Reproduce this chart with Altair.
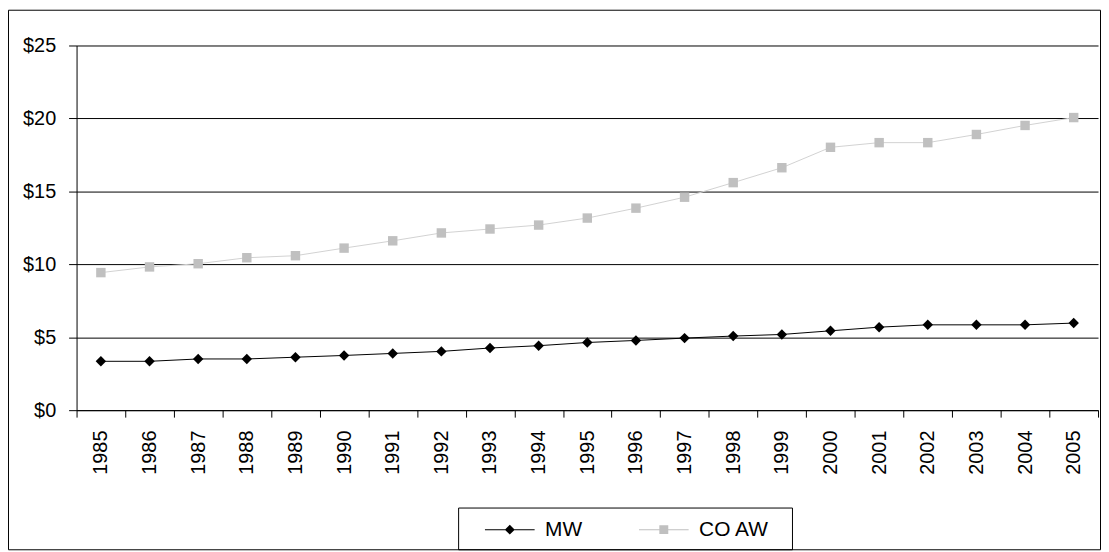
import altair as alt
import pandas as pd

# ---- data ----
years = ["1985", "1986", "1987", "1988", "1989", "1990", "1991", "1992", "1993", "1994",
         "1995", "1996", "1997", "1998", "1999", "2000", "2001", "2002", "2003", "2004", "2005"]
mw = [3.35, 3.35, 3.51, 3.51, 3.63, 3.75, 3.89, 4.03, 4.26, 4.42,
      4.64, 4.78, 4.94, 5.08, 5.19, 5.44, 5.69, 5.85, 5.85, 5.85, 5.97]
co_aw = [9.43, 9.82, 10.04, 10.45, 10.59, 11.11, 11.61, 12.15, 12.42, 12.69,
         13.17, 13.85, 14.60, 15.60, 16.62, 18.02, 18.34, 18.34, 18.90, 19.52, 20.06]
series_names = ["MW", "CO AW"]
y_ticks = [0, 5, 10, 15, 20, 25]

df = pd.DataFrame({
    "year": years + years,
    "value": mw + co_aw,
    "series": [series_names[0]] * len(years) + [series_names[1]] * len(years),
})

FONT = "Liberation Sans"

# legend symbols: a line with the marker in the middle (unit box coordinates)
mw_sym = "M-2,-0.04H2V0.04H-2Z M0,-0.4L0.4,0L0,0.4L-0.4,0Z"
co_sym = "M-2,-0.04H2V0.04H-2Z M-0.36,-0.36H0.36V0.36H-0.36Z"

x_enc = alt.X(
    "year:O",
    sort=years,
    bandPosition=0.5,
    scale=alt.Scale(type="band", paddingInner=0, paddingOuter=0),
    axis=alt.Axis(title=None, labelAngle=270, labelAlign="right", labelBaseline="middle",
                  tickBand="extent", tickSize=7, labelPadding=13, grid=False),
)
y_enc = alt.Y(
    "value:Q",
    scale=alt.Scale(domain=[0, 25]),
    axis=alt.Axis(title=None, values=y_ticks, labelExpr="'$' + datum.value",
                  tickSize=8, labelPadding=13, grid=True),
)

base = alt.Chart(df).encode(x=x_enc, y=y_enc)

line_co = base.transform_filter(alt.datum.series == "CO AW").mark_line(color="#d2d2d2", strokeWidth=1)
line_mw = base.transform_filter(alt.datum.series == "MW").mark_line(color="black", strokeWidth=1)
pts_co = base.transform_filter(alt.datum.series == "CO AW").mark_point(
    shape="square", filled=True, size=90, color="#c0c0c0", opacity=1)
pts_mw = base.transform_filter(alt.datum.series == "MW").mark_point(
    shape="diamond", filled=True, size=110, color="black", opacity=1)

leg = alt.Legend(
    title=None, orient="none", legendX=384.5, legendY=465.5, direction="horizontal",
    padding=9,
    symbolSize=625, symbolOffset=30, labelOffset=23, columnPadding=39,
    labelFont=FONT, labelFontSize=21, labelColor="black",
    symbolOpacity=1, symbolStrokeWidth=0,
)

legend_layer = alt.Chart(df).transform_filter("false").mark_point(filled=True, opacity=1).encode(
    color=alt.Color("series:N", scale=alt.Scale(domain=series_names, range=["black", "#c0c0c0"]), legend=leg),
    shape=alt.Shape("series:N", scale=alt.Scale(domain=series_names, range=[mw_sym, co_sym]), legend=leg),
)

frame = pd.DataFrame({"k": [0]})
border = alt.Chart(frame).mark_rect(
    fillOpacity=0, stroke="black", strokeWidth=1
).encode(x=alt.value(-68.5), x2=alt.value(1030.5), y=alt.value(-35.5), y2=alt.value(507.5))
legend_box = alt.Chart(frame).mark_rect(
    fillOpacity=0, stroke="black", strokeWidth=1
).encode(x=alt.value(384.5), x2=alt.value(720.5), y=alt.value(465.5), y2=alt.value(507.5))

chart = alt.layer(border, legend_box, line_co, line_mw, pts_co, pts_mw, legend_layer).properties(
    width=1028, height=367,
    padding={"left": 69, "top": 36, "right": 3, "bottom": 141},
    autosize=alt.AutoSizeParams(type="none"),
    background="white",
).configure_view(strokeWidth=0).configure_axis(
    labelFont=FONT, labelFontSize=20, labelColor="black",
    domainColor="black", tickColor="black", gridColor="black", gridOpacity=1,
    domainWidth=1, tickWidth=1, gridWidth=1,
)

chart.save("out.html", embed_options={"renderer": "svg", "actions": False})
